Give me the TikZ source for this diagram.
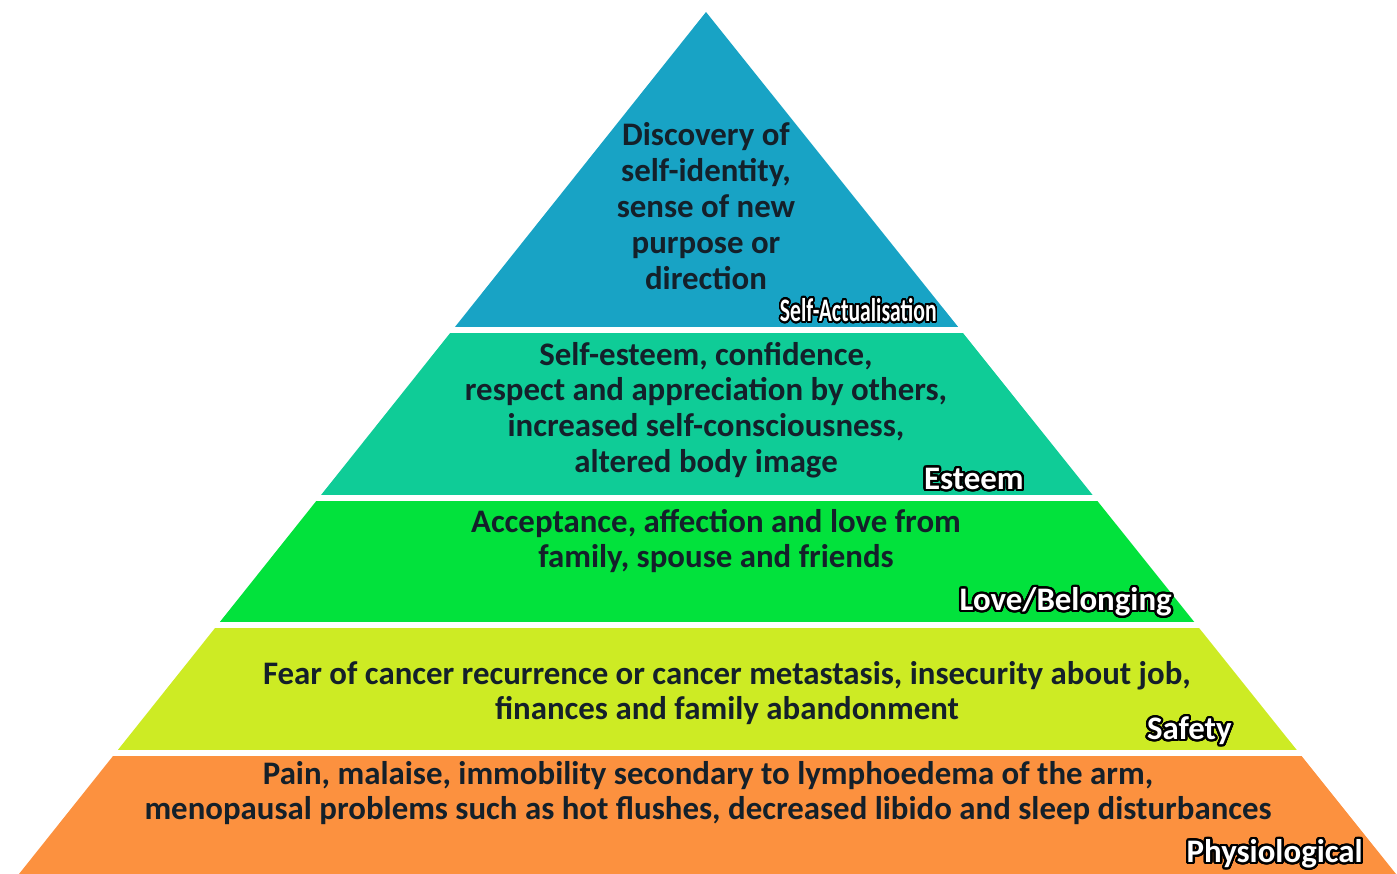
\documentclass[tikz,border=0pt]{standalone}
\usepackage{fontspec}
\setmainfont{Carlito}
\usepackage{contour}
\contourlength{1.3pt}
\contournumber{32}

\definecolor{actcol}{HTML}{18A3C5}
\definecolor{estcol}{HTML}{0FCC97}
\definecolor{lovecol}{HTML}{02E23C}
\definecolor{safecol}{HTML}{CDEB24}
\definecolor{physcol}{HTML}{FC913F}
\definecolor{textdark}{HTML}{14202A}

\newcommand{\lvlname}[1]{\contour{black}{\textcolor{white}{#1}}}

\tikzset{
	body/.style={font=\fontsize{18.7}{20.4}\selectfont\bfseries, text=textdark, align=center, inner sep=0pt},
	lvl/.style={font=\fontsize{18.7}{20}\selectfont\bfseries, inner sep=0pt, anchor=east}
}

\begin{document}
\begin{tikzpicture}[x=0.02cm, y=-0.02cm]
		\useasboundingbox (0,0) rectangle (1397,874);

		% Outline of the pyramid
		\coordinate (apex) at (706,12);
		\coordinate (bl) at (19,874);
		\coordinate (br) at (1396,874);

		% Fill the bands, leaving white gaps
		\begin{scope}
			\clip (apex) -- (bl) -- (br) -- cycle;
			\foreach \ytop/\ybot/\col in {0/327/actcol, 333/495/estcol, 501/622/lovecol, 628/750/safecol, 756/874/physcol}
				\fill[\col] (0,\ytop) rectangle (1397,\ybot);
		\end{scope}

		% Add the texts
		\node[body] (act) at (706,206) {Discovery of\\self-identity,\\sense of new\\purpose or\\direction};
		\node[body] (est) at (706,410) {Self-esteem, confidence,\\respect and appreciation by others,\\increased self-consciousness,\\altered body image};
		\node[body] (love) at (716,541) {Acceptance, affection and love from\\family, spouse and friends};
		\node[body] (safe) at (727,693) {Fear of cancer recurrence or cancer metastasis, insecurity about job,\\finances and family abandonment};
		\node[body] (phys) at (708,793) {Pain, malaise, immobility secondary to lymphoedema of the arm,\\menopausal problems such as hot flushes, decreased libido and sleep disturbances};

		% Add the level names
		\node[lvl] (actname) at (937,311) {\scalebox{0.66}[1]{\lvlname{Self-Actualisation}}};
		\node[lvl] (estname) at (1024,480) {\lvlname{Esteem}};
		\node[lvl] (lovename) at (1172,603) {\lvlname{Love/Belonging}};
		\node[lvl] (safename) at (1232,732) {\lvlname{Safety}};
		\node[lvl] (physname) at (1363,855) {\lvlname{Physiological}};
	\end{tikzpicture}
\end{document}
